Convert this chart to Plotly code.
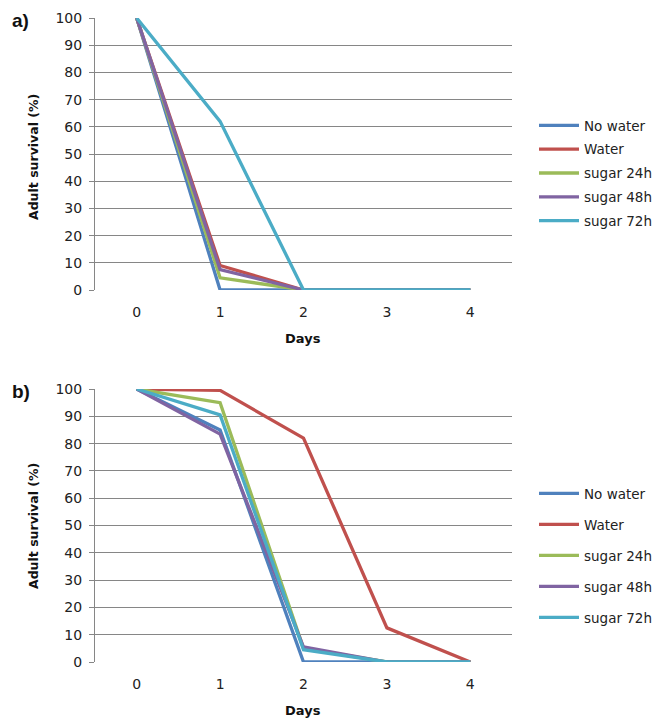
import plotly.graph_objects as go

days = ["0", "1", "2", "3", "4"]
series_names = ["No water", "Water", "sugar 24h", "sugar 48h", "sugar 72h"]
colors = ["#4F81BD", "#C0504D", "#9BBB59", "#8064A2", "#4BACC6"]

a_no_water = [100, 0, 0, 0, 0]
a_water = [100, 9, 0, 0, 0]
a_sugar24 = [100, 4.5, 0, 0, 0]
a_sugar48 = [100, 7.5, 0, 0, 0]
a_sugar72 = [100, 62, 0, 0, 0]

b_no_water = [100, 85, 0, 0, 0]
b_water = [100, 99.5, 82, 12.5, 0]
b_sugar24 = [100, 95, 5, 0, 0]
b_sugar48 = [100, 83.5, 5.5, 0, 0]
b_sugar72 = [100, 90.5, 4.5, 0, 0]

panel_a = [a_no_water, a_water, a_sugar24, a_sugar48, a_sugar72]
panel_b = [b_no_water, b_water, b_sugar24, b_sugar48, b_sugar72]
yticks = list(range(0, 101, 10))

FONT = "DejaVu Sans, sans-serif"
fig = go.Figure()

for i, (name, vals) in enumerate(zip(series_names, panel_a)):
    fig.add_trace(go.Scatter(x=days, y=vals, mode="lines", name=name,
                             line=dict(color=colors[i], width=3.3),
                             xaxis="x", yaxis="y", legend="legend",
                             legendgroup="a%d" % i))
for i, (name, vals) in enumerate(zip(series_names, panel_b)):
    fig.add_trace(go.Scatter(x=days, y=vals, mode="lines", name=name,
                             line=dict(color=colors[i], width=3.3),
                             xaxis="x2", yaxis="y2", legend="legend2",
                             legendgroup="b%d" % i))

W, H = 660, 720
x0, x1 = 95 / W, 512 / W
ya = [1 - 290 / H, 1 - 18 / H]
yb = [1 - 662 / H, 1 - 389 / H]

xcommon = dict(type="category", range=[-0.5, 4.5], showgrid=False, zeroline=False,
               showline=False, ticks="", tickfont=dict(family=FONT, size=14, color="#222"),
               ticklabelstandoff=12, fixedrange=True, automargin=False)
ycommon = dict(range=[0, 100], tickvals=yticks, showgrid=True, gridcolor="#868686",
               gridwidth=1, zeroline=False, showline=True, linecolor="#868686",
               linewidth=1, ticks="outside", ticklen=5, tickcolor="#868686",
               ticklabelstandoff=4, automargin=False,
               tickfont=dict(family=FONT, size=14, color="#222"))

legcommon = dict(font=dict(family=FONT, size=13.5, color="#222"), bgcolor="rgba(0,0,0,0)",
                 xanchor="left", yanchor="top", itemwidth=40, traceorder="grouped")

fig.update_layout(
    width=W, height=H, margin=dict(l=0, r=0, t=0, b=0, pad=0, autoexpand=False),
    paper_bgcolor="white", plot_bgcolor="white",
    xaxis=dict(domain=[x0, x1], anchor="y", **xcommon),
    yaxis=dict(domain=ya, anchor="x", **ycommon),
    xaxis2=dict(domain=[x0, x1], anchor="y2", **xcommon),
    yaxis2=dict(domain=yb, anchor="x2", **ycommon),
    legend=dict(x=534 / W, y=1 - 110 / H, tracegroupgap=3.3, **legcommon),
    legend2=dict(x=534 / W, y=1 - 478 / H, tracegroupgap=10.5, **legcommon),
    showlegend=True,
)

ann = []
for lab, ytop in [("a)", 20), ("b)", 392)]:
    ann.append(dict(text="<b>%s</b>" % lab, x=10 / W, y=1 - ytop / H, xref="paper", yref="paper",
                    xanchor="left", yanchor="middle", showarrow=False,
                    font=dict(family="Liberation Sans, Arial", size=19, color="#111")))
for yc in [157, 526]:
    ann.append(dict(text="<b>Adult survival (%)</b>", x=33 / W, y=1 - yc / H, xref="paper",
                    yref="paper", textangle=-90, showarrow=False, xanchor="center",
                    yanchor="middle", font=dict(family=FONT, size=12.5, color="#111")))
for yc in [338, 710]:
    ann.append(dict(text="<b>Days</b>", x=303 / W, y=1 - yc / H, xref="paper",
                    yref="paper", showarrow=False, xanchor="center", yanchor="middle",
                    font=dict(family=FONT, size=13, color="#111")))
fig.update_layout(annotations=ann)

fig.write_html("out.html")
